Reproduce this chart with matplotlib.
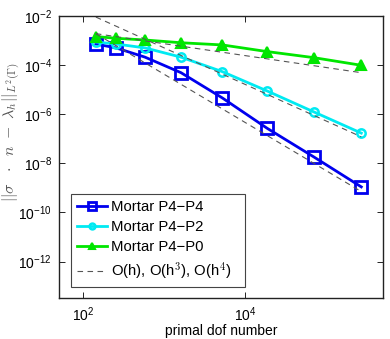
import numpy as np
import matplotlib
matplotlib.use("Agg")
import matplotlib.pyplot as plt

plt.rcParams['font.family'] = ['Liberation Sans', 'DejaVu Sans']
plt.rcParams['mathtext.fontset'] = 'cm'

# primal dofs
dofs = [143, 254, 578, 1607, 5200, 18500, 70500, 270000]

# errors
err_p4p4 = [7.2e-4, 5.0e-4, 2.1e-4, 4.9e-5, 4.6e-6, 2.7e-7, 1.8e-8, 1.1e-9]
err_p4p2 = [8.7e-4, 7.2e-4, 5.0e-4, 2.1e-4, 5.4e-5, 8.9e-6, 1.23e-6, 1.7e-7]
err_p4p0 = [1.45e-3, 1.23e-3, 1.05e-3, 8.1e-4, 6.6e-4, 3.55e-4, 2.0e-4, 9.8e-5]

# reference slopes, end points only
ref_x = [143, 270000]
ref_h1 = [1.9e-3, 4.9e-5]
ref_h3 = [9.0e-3, 1.2e-7]
ref_h4 = [1.9e-3, 7.1e-10]

fig = plt.figure(figsize=(3.9, 3.39), dpi=100)
ax = fig.add_axes([0.151, 0.121, 0.831, 0.832])

ax.loglog(dofs, err_p4p4, '-s', color='#0000ee', lw=2, ms=9, mfc='none', mew=2,
          label='Mortar P4\u2212P4')
ax.loglog(dofs, err_p4p2, '-o', color='#00eaf2', lw=2, ms=6, mfc='none', mew=1.8,
          label='Mortar P4\u2212P2')
ax.loglog(dofs, err_p4p0, '-^', color='#00e600', lw=2, ms=7, mfc='#00e600', mew=1.5,
          label='Mortar P4\u2212P0')
ax.loglog(ref_x, ref_h1, '--', color='#555555', lw=0.8, dashes=(5, 4),
          label='O(h), O(h$^3$), O(h$^4$)')
ax.loglog(ref_x, ref_h3, '--', color='#555555', lw=0.8, dashes=(5, 4))
ax.loglog(ref_x, ref_h4, '--', color='#555555', lw=0.8, dashes=(5, 4))

ax.set_xlim(50, 5e5)
ax.set_ylim(10**-13.48, 1e-2)
ax.set_xticks([1e2, 1e4])
ax.set_yticks([1e-2, 1e-4, 1e-6, 1e-8, 1e-10, 1e-12])
ax.xaxis.set_minor_locator(matplotlib.ticker.NullLocator())
ax.yaxis.set_minor_locator(matplotlib.ticker.NullLocator())
ax.tick_params(direction='in', top=True, right=True, length=4, width=0.6,
               labelsize=10, pad=5)
for s in ax.spines.values():
    s.set_linewidth(1.0)
    s.set_color('#222222')

ax.set_xlabel('primal dof number', fontsize=10, labelpad=0)
ax.set_ylabel(r'$||\sigma\ \ \cdot\ \ n\ -\ \lambda_h||_{L^2(\Gamma)}$',
              fontsize=11.5, color='#555555')
ax.yaxis.set_label_coords(-0.11, 0.59)

leg = ax.legend(loc='lower left', bbox_to_anchor=(0.037, 0.039, 0.537, 0.3),
                mode='expand', fontsize=10.7,
                fancybox=False, edgecolor='#444444', framealpha=1,
                handlelength=2.0, handletextpad=0.3, borderpad=0.4,
                labelspacing=0.4, borderaxespad=0, markerscale=0.7)
leg.get_frame().set_linewidth(0.8)

fig.savefig('out.png', dpi=100)
